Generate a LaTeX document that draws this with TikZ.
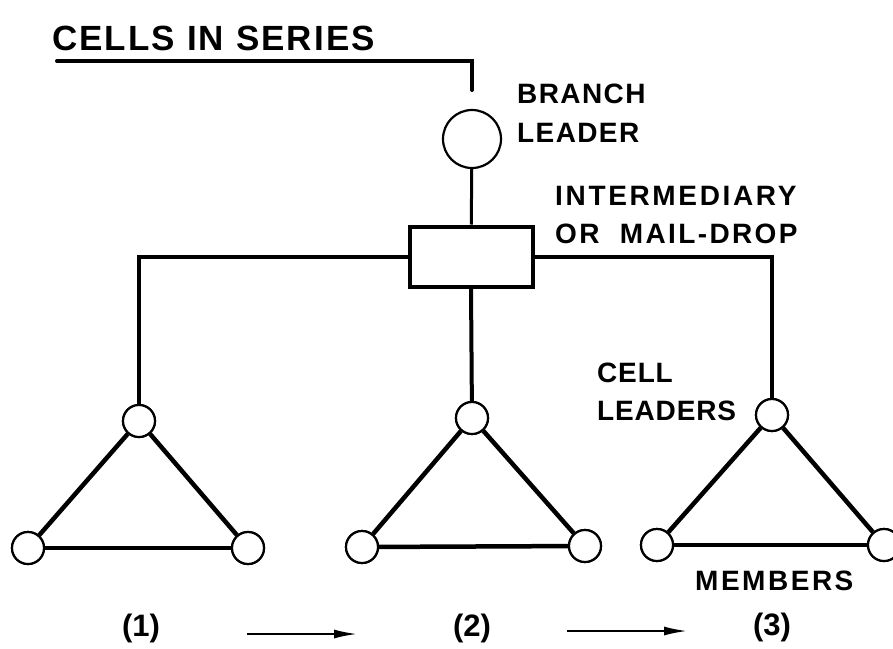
\documentclass[tikz,border=0pt]{standalone}
\usepackage{fontspec}
\setmainfont{Liberation Sans}
\usetikzlibrary{arrows.meta}
\newcommand{\lsp}[1]{\addfontfeature{LetterSpace=#1}}
\begin{document}
\begin{tikzpicture}[x=1pt,y=-1pt,
  lbl/.style={inner sep=0pt,anchor=base west,font=\fontsize{28}{28}\selectfont\bfseries\lsp{#1}},
  lbl/.default=5,
  num/.style={inner sep=0pt,anchor=base,font=\fontsize{31}{31}\selectfont\bfseries},
  title/.style={inner sep=0pt,anchor=base west,font=\fontsize{35}{35}\selectfont\bfseries\lsp{6}},
  person/.style={circle,draw,line width=2.2pt,fill=white,inner sep=0pt,minimum size=#1},
  person/.default=32pt,
  dropbox/.style={rectangle,draw,line width=4pt,fill=white,minimum width=123pt,minimum height=60pt,inner sep=0pt},
  link/.style={line width=4pt},
  tri/.style={line width=4.5pt},
  flow/.style={line width=2.5pt,-{Latex[length=24pt,width=9pt]}}
]
\useasboundingbox (0,0) rectangle (893,648);
\clip (0,0) rectangle (893,648);
\fill[white] (0,0) rectangle (893,648);

% title and its bracket line
\node[title] (ttl) at (52,50) {CELLS IN SERIES};
\coordinate (t0) at (57,61);
\coordinate (t1) at (472,90);
\draw[link,line cap=round] (t0) -| (t1);

% branch leader and mail drop
\node[person=58pt] (bl) at (472,139) {};
\node[dropbox] (md) at (471,256.5) {};
\draw[line width=3pt] (bl) -- (md);

% cell leaders
\node[person] (c1) at (139,421) {};
\node[person] (c2) at (472,418) {};
\node[person] (c3) at (772,415) {};

% members
\node[person] (m1a) at (28,548) {};
\node[person] (m1b) at (248,548) {};
\node[person] (m2a) at (362,547) {};
\node[person] (m2b) at (585,546) {};
\node[person] (m3a) at (657,545) {};
\node[person] (m3b) at (884,545) {};

% branch connectors
\draw[link] (md.west) -| (c1);
\draw[link] (md.south) -- (c2);
\draw[link] (md.east) -| (c3);

% triangles
\draw[tri] (c1) -- (m1a); \draw[tri] (c1) -- (m1b); \draw[tri] (m1a) -- (m1b);
\draw[tri] (c2) -- (m2a); \draw[tri] (c2) -- (m2b); \draw[tri] (m2a) -- (m2b);
\draw[tri] (c3) -- (m3a); \draw[tri] (c3) -- (m3b); \draw[tri] (m3a) -- (m3b);

% redraw circles on top
\foreach \n in {c1,c2,c3,m1a,m1b,m2a,m2b,m3a,m3b}{\draw[line width=2.2pt,fill=white] (\n) circle (16pt);}

% labels
\node[lbl=5] (tb1) at (517,103) {BRANCH};
\node[lbl=5] (tb2) at (517,142) {LEADER};
\node[lbl=9.5] (ti1) at (555,205) {INTERMEDIARY};
\node[lbl=8.5] (ti2) at (555,243) {OR\ \ MAIL-DROP};
\node[lbl=3] (tc1) at (597,382) {CELL};
\node[lbl=3] (tc2) at (597,420) {LEADERS};
\node[lbl=9] (tm) at (695,590) {MEMBERS};

\node[num] (n1) at (141,636) {(1)};
\node[num] (n2) at (472,636) {(2)};
\node[num] (n3) at (772,635) {(3)};

\coordinate (a1s) at (247,634);
\coordinate (a1e) at (358,634);
\coordinate (a2s) at (567,631);
\coordinate (a2e) at (688,631);
\draw[flow] (a1s) -- (a1e);
\draw[flow] (a2s) -- (a2e);
\end{tikzpicture}
\end{document}
